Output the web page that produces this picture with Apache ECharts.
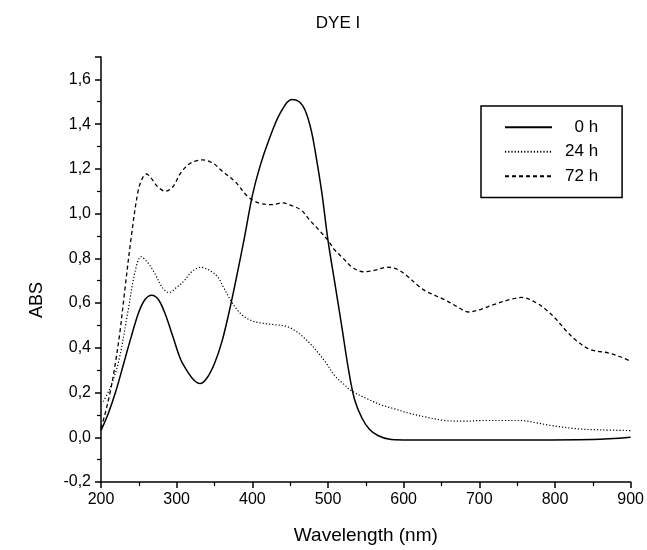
<!DOCTYPE html>
<html>
<head>
<meta charset="utf-8">
<script src="https://cdn.jsdelivr.net/npm/echarts@6/dist/echarts.min.js"></script>
<style>
html,body{margin:0;padding:0;background:#fff;}
#c{width:647px;height:550px;}
</style>
</head>
<body>
<div id="c"></div>
<script>
var titleText = 'DYE I';
var xName = 'Wavelength (nm)';
var yName = 'ABS';
var seriesNames = ['0 h', '24 h', '72 h'];

var wl0 = [200,210,220,230,240,250,258,267,276,285,295,305,315,323,331,340,350,360,370,380,390,400,410,422,437,452,462,470,478,485,492,500,509,518,527,535,545,555,566,580,600,650,750,850,900];
var abs0 = [0.03,0.11,0.21,0.33,0.45,0.56,0.615,0.635,0.615,0.55,0.45,0.35,0.29,0.255,0.24,0.265,0.33,0.43,0.57,0.73,0.90,1.08,1.21,1.33,1.45,1.51,1.50,1.46,1.37,1.24,1.09,0.88,0.69,0.50,0.305,0.17,0.085,0.035,0.008,-0.008,-0.012,-0.012,-0.012,-0.01,0.0];

var wl24 = [203,212,223,236,245,253,262,271,281,290,300,310,320,332,344,354,362,371,380,389,400,411,428,444,455,466,476,487,498,509,520,531,553,570,588,610,630,654,680,706,730,754,775,794,829,860,900];
var abs24 = [0.16,0.22,0.334,0.57,0.74,0.807,0.78,0.733,0.67,0.647,0.67,0.70,0.74,0.76,0.745,0.718,0.67,0.615,0.57,0.54,0.52,0.511,0.504,0.497,0.48,0.452,0.42,0.378,0.33,0.275,0.24,0.208,0.17,0.145,0.127,0.105,0.09,0.075,0.072,0.075,0.075,0.075,0.065,0.053,0.038,0.033,0.03];

var wl72 = [200,205,212,218,225,231,240,249,255,260,266,275,285,295,305,318,334,348,360,378,395,413,428,439,452,465,476,487,500,509,520,531,546,560,579,592,605,620,630,654,670,686,700,719,740,756,776,790,802,815,829,846,872,886,900];
var abs72 = [0.04,0.1,0.2,0.31,0.47,0.644,0.896,1.10,1.16,1.177,1.16,1.12,1.10,1.12,1.18,1.225,1.24,1.225,1.19,1.14,1.073,1.043,1.04,1.048,1.036,1.014,0.97,0.93,0.88,0.837,0.80,0.763,0.74,0.745,0.76,0.75,0.72,0.675,0.652,0.615,0.585,0.56,0.57,0.593,0.615,0.625,0.60,0.565,0.526,0.475,0.43,0.393,0.376,0.36,0.34];

var xMin = 200, xMax = 900, xStep = 100;
var yMin = -0.2, yMax = 1.7, yStep = 0.2;

function pairs(xs, ys){ return xs.map(function(x,i){ return [x, ys[i]]; }); }

var font = 'Liberation Sans, Arial, sans-serif';
var chart = echarts.init(document.getElementById('c'), null, {renderer:'canvas'});
var axisCommon = {
  axisLine: {show:true, onZero:false, lineStyle:{color:'#000', width:1.5}},
  axisTick: {show:true, inside:false, length:6, lineStyle:{color:'#000', width:1.5}},
  minorTick: {show:true, splitNumber:2, length:4, lineStyle:{color:'#000', width:1.2}},
  splitLine: {show:false},
  minorSplitLine: {show:false}
};
chart.setOption({
  animation:false,
  backgroundColor:'#fff',
  title:{text:titleText, left:333, top:10, textAlign:'center',
    textStyle:{fontFamily:font, fontSize:17, fontWeight:'normal', color:'#000'}},
  grid:{left:101, right:13, top:57, bottom:63},
  legend:{
    left:481, top:106, orient:'vertical',
    padding:[11,24,11,23],
    borderColor:'#000', borderWidth:1.5,
    itemWidth:47, itemHeight:14, itemGap:4,
    itemStyle:{opacity:0},
    data: seriesNames,
    formatter:function(n){ return n.length < 4 ? '\u2007' + n : n; },
    textStyle:{fontFamily:font, fontSize:17, color:'#000', lineHeight:20.5, padding:[0,0,0,8]}
  },
  xAxis: Object.assign({
    type:'value', min:xMin, max:xMax, interval:xStep,
    name:xName, nameLocation:'middle', nameGap:44,
    nameTextStyle:{fontFamily:font, fontSize:19, color:'#000'},
    axisLabel:{fontFamily:font, fontSize:16, color:'#000', margin:10}
  }, axisCommon),
  yAxis: Object.assign({
    type:'value', min:yMin, max:yMax, interval:yStep,
    axisLabel:{fontFamily:font, fontSize:16, color:'#000', margin:10, showMaxLabel:false,
      formatter:function(v){ return (Math.round(v*10)/10).toFixed(1).replace('.', ','); }}
  }, axisCommon),
  graphic:[{type:'text', x:37, y:300, rotation:Math.PI/2,
    style:{text:yName, font:'18px ' + font, fill:'#000', align:'center', verticalAlign:'middle'}}],
  series:[
    {name:seriesNames[0], type:'line', data:pairs(wl0, abs0), smooth:0.35, symbol:'none', showSymbol:false,
      lineStyle:{color:'#000', width:1.5, type:'solid'}, itemStyle:{color:'#000'}},
    {name:seriesNames[1], type:'line', data:pairs(wl24, abs24), smooth:0.35, symbol:'none', showSymbol:false,
      lineStyle:{color:'#000', width:1.2, type:[1.2,2]}, itemStyle:{color:'#000'}},
    {name:seriesNames[2], type:'line', data:pairs(wl72, abs72), smooth:0.35, symbol:'none', showSymbol:false,
      lineStyle:{color:'#000', width:1.3, type:[4,3]}, itemStyle:{color:'#000'}}
  ]
});
</script>
</body>
</html>
